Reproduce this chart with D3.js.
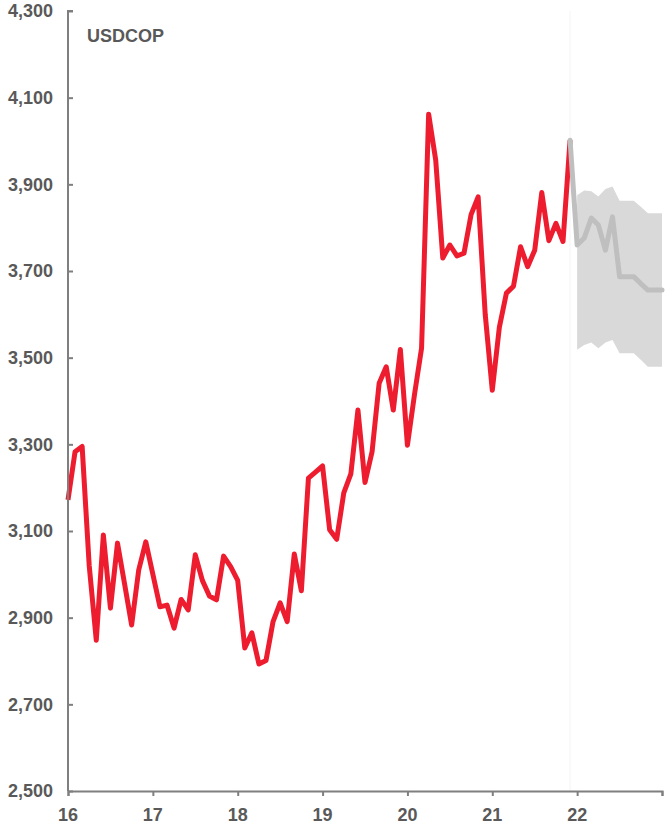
<!DOCTYPE html>
<html>
<head>
<meta charset="utf-8">
<script src="https://cdn.jsdelivr.net/npm/d3@7"></script>
<style>
  html, body { margin: 0; padding: 0; background: #ffffff; }
  svg text { font-family: "Liberation Sans", Arial, sans-serif; font-weight: bold; fill: #595959; }
</style>
</head>
<body>
<svg id="chart" width="666" height="827"></svg>
<script>
// Monthly USD/COP spot, Jan 2016 – Dec 2021 (one value per month)
const spotStart = 2016;
const spot = [
  3172, 3283, 3295, 3020, 2848, 3091, 2922, 3072, 2978, 2883, 3010, 3075, // 2016
  3000, 2925, 2929, 2876, 2942, 2918, 3045, 2986, 2950, 2941, 3042, 3018, // 2017
  2986, 2830, 2865, 2793, 2801, 2891, 2934, 2891, 3047, 2962, 3222, 3236, // 2018
  3250, 3103, 3081, 3188, 3232, 3379, 3212, 3283, 3441, 3479, 3379, 3519, // 2019
  3298, 3415, 3522, 4062, 3956, 3730, 3760, 3735, 3741, 3830, 3871, 3600, // 2020
  3425, 3570, 3649, 3665, 3756, 3710, 3748, 3881, 3770, 3810, 3768, 4002  // 2021
];

// Forecast path and its range, Dec 2021 – Jan 2023
const forecastStartMonth = 11; // months after Jan of 2021 (i.e. Dec 2021)
const forecast = [4002, 3760, 3776, 3822, 3806, 3748, 3825, 3687, 3687, 3687, 3671, 3656, 3656, 3656];
const bandHigh = [null, 3875, 3886, 3884, 3872, 3889, 3895, 3862, 3862, 3862, 3848, 3833, 3833, 3833];
const bandLow  = [null, 3518, 3529, 3535, 3522, 3535, 3541, 3510, 3510, 3510, 3495, 3479, 3479, 3479];

const yTicks = [2500, 2700, 2900, 3100, 3300, 3500, 3700, 3900, 4100, 4300];
const xTicks = [16, 17, 18, 19, 20, 21, 22];
const xTickLabels = ["16", "17", "18", "19", "20", "21", "22"];
const seriesName = "USDCOP";

const svg = d3.select("#chart");
const margin = { left: 68, right: 4, top: 11, bottom: 36 };
const W = 666, H = 827;

const x = d3.scaleLinear().domain([16, 23]).range([margin.left, W - margin.right]);
const y = d3.scaleLinear().domain([2500, 4300]).range([H - margin.bottom, margin.top]);

// spot series in year-fraction units (yy.mm)
const spotPts = spot.map((v, i) => ({ t: (spotStart - 2000) + i / 12, v }));
const fcPts = forecast.map((v, i) => ({
  t: 21 + (forecastStartMonth + i) / 12, v, hi: bandHigh[i], lo: bandLow[i]
}));
const bandPts = fcPts.filter(d => d.hi != null);

// faint divider where the forecast begins
svg.append("line")
  .attr("x1", x(fcPts[0].t)).attr("x2", x(fcPts[0].t))
  .attr("y1", y(4300)).attr("y2", y(2500))
  .attr("stroke", "#f4f4f4").attr("stroke-width", 1);

// forecast range
svg.append("path")
  .datum(bandPts)
  .attr("fill", "#d9d9d9")
  .attr("d", d3.area().x(d => x(d.t)).y0(d => y(d.lo)).y1(d => y(d.hi)));

// spot series
svg.append("path")
  .datum(spotPts)
  .attr("fill", "none")
  .attr("stroke", "#ed1c2e")
  .attr("stroke-width", 5)
  .attr("stroke-linejoin", "round")
  .attr("d", d3.line().x(d => x(d.t)).y(d => y(d.v)));

// forecast central path, drawn over the last spot point
svg.append("path")
  .datum(fcPts)
  .attr("fill", "none")
  .attr("stroke", "#bfbfbf")
  .attr("stroke-width", 5)
  .attr("stroke-linejoin", "round")
  .attr("stroke-linecap", "round")
  .attr("d", d3.line().x(d => x(d.t)).y(d => y(d.v)));

// y axis: ticks point into the plot
const yAxis = svg.append("g")
  .attr("transform", `translate(${margin.left},0)`)
  .call(d3.axisRight(y).tickValues(yTicks).tickSize(5).tickFormat(""));
yAxis.select(".domain").attr("d", `M5,${y(4300)}H0V${y(2500)}`);
yAxis.selectAll("line, path").attr("stroke", "#7f7f7f").attr("stroke-width", 2);

svg.append("g").selectAll("text")
  .data(yTicks)
  .join("text")
  .attr("x", 53)
  .attr("y", d => y(d))
  .attr("dy", "0.35em")
  .attr("text-anchor", "end")
  .attr("font-size", 18)
  .text(d3.format(","));

// x axis: ticks point down
const xAxis = svg.append("g")
  .attr("transform", `translate(0,${y(2500)})`)
  .call(d3.axisBottom(x).tickValues(xTicks.concat([23])).tickSize(5).tickFormat(""));
xAxis.selectAll("line, path").attr("stroke", "#7f7f7f").attr("stroke-width", 2);

svg.append("g").selectAll("text")
  .data(xTicks)
  .join("text")
  .attr("x", d => x(d))
  .attr("y", y(2500) + 30)
  .attr("text-anchor", "middle")
  .attr("font-size", 18)
  .text((d, i) => xTickLabels[i]);

svg.append("text")
  .attr("x", 87)
  .attr("y", 42)
  .attr("font-size", 18)
  .text(seriesName);
</script>
</body>
</html>
